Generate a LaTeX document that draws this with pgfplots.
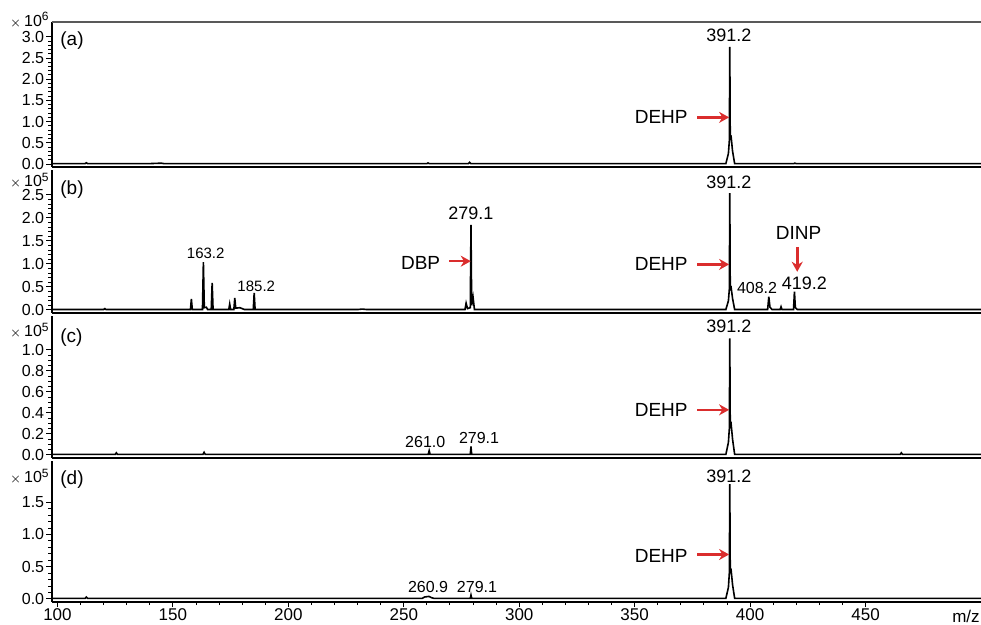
\documentclass[border=0pt]{standalone}
\usepackage{fontspec}
\setmainfont{Liberation Sans}
\usepackage{pgfplots}
\pgfplotsset{compat=1.18}
\usetikzlibrary{arrows.meta}
\definecolor{arr}{RGB}{218,45,45}

\pgfplotsset{
  spec/.style={
    scale only axis, width=464.65pt,
    xmin=97.5, xmax=500,
    axis lines*=left,
    axis line style={black, line width=0.9pt},
    tick align=outside,
    major tick length=2.6pt, minor tick length=1.6pt,
    every tick/.style={black, line width=0.5pt},
    xtick=\empty,
    clip=false,
    yticklabel style={font=\fontsize{8}{9}\selectfont, inner sep=1pt,
      /pgf/number format/.cd, fixed, fixed zerofill, precision=1, assume math mode=true},
    xticklabel style={font=\fontsize{8.5}{10}\selectfont, inner sep=1pt, yshift=0.5pt,
      /pgf/number format/.cd, assume math mode=true},
  },
}
\tikzset{
  sp/.style={black, line width=0.8pt, no marks, sharp plot},
  big/.style={font=\fontsize{9}{10}\selectfont},
  mid/.style={font=\fontsize{8}{9}\selectfont},
  sml/.style={font=\fontsize{7.5}{8.5}\selectfont},
  lab/.style={font=\fontsize{9.5}{11}\selectfont},
  rarr/.style={arr, line width=1.3pt, -{Stealth[length=5pt,width=5.5pt]}},
}

\begin{document}
\begin{tikzpicture}

% ---------------- (a)
\begin{axis}[spec, at={(0,217.5pt)}, anchor=south west, height=72.5pt,
  ymin=-0.07, ymax=3.35,
  ytick={0,0.5,1,1.5,2,2.5,3}, minor y tick num=4]
\addplot[sp] coordinates {
(97.5,0.01)(112,0.01)(112.5,0.03)(113,0.01)(140,0.01)(145,0.02)(146,0.01)
(260,0.01)(260.5,0.025)(261,0.01)(278,0.01)(278.5,0.04)(279,0.01)
(389.5,0.01)(390.6,0.25)(391.0,0.55)(391.2,2.76)(391.4,0.6)(391.8,0.63)(392.4,0.3)(393.3,0.01)
(419,0.01)(419.3,0.02)(420,0.01)(500,0.01)};
\draw[gray!70!black, line width=0.7pt] (rel axis cs:0,1) -- (rel axis cs:1,1);
\node[big] at (axis cs:390.8,3.03) {391.2};
\node[lab, anchor=east] at (axis cs:376.0,1.10) {DEHP};
\draw[rarr] (axis cs:377,1.10) -- (axis cs:390.9,1.10);
\end{axis}

% ---------------- (b)
\begin{axis}[spec, at={(0,144.5pt)}, anchor=south west, height=71.5pt,
  ymin=-0.065, ymax=3.04,
  ytick={0,0.5,1,1.5,2,2.5}, minor y tick num=4]
\addplot[sp] coordinates {
(97.5,0.01)(120,0.01)(120.5,0.03)(121,0.01)
(157.6,0.01)(158,0.24)(158.4,0.01)
(162.8,0.01)(163.2,1.04)(163.6,0.05)(164.5,0.06)(165,0.01)
(166.6,0.01)(167,0.59)(167.4,0.01)
(174.2,0.01)(174.6,0.13)(175,0.01)
(176.4,0.01)(176.8,0.26)(177.2,0.04)(179,0.05)(181,0.01)
(184.8,0.01)(185.2,0.37)(185.6,0.01)
(230,0.01)(232,0.02)(234,0.01)
(276.5,0.01)(277,0.15)(277.6,0.03)(278.8,0.05)(279.1,1.85)(279.4,0.1)(280,0.28)(280.6,0.01)
(389.5,0.01)(390.6,0.2)(391.0,0.45)(391.2,2.54)(391.4,0.45)(391.8,0.48)(392.4,0.25)(393.3,0.01)
(407.6,0.01)(408.1,0.29)(408.6,0.06)(409.5,0.01)
(413,0.01)(413.4,0.07)(413.8,0.01)
(418.8,0.01)(419.2,0.40)(419.6,0.05)(420.4,0.01)(500,0.01)};
\node[sml] at (axis cs:164.2,1.22) {163.2};
\node[sml] at (axis cs:186.1,0.52) {185.2};
\node[big] at (axis cs:279.1,2.11) {279.1};
\node[lab, anchor=east] at (axis cs:268.8,1.03) {DBP};
\draw[rarr] (axis cs:269.6,1.06) -- (axis cs:279.0,1.06);
\node[big] at (axis cs:390.8,2.77) {391.2};
\node[lab, anchor=east] at (axis cs:376.0,0.99) {DEHP};
\draw[rarr] (axis cs:377,0.99) -- (axis cs:390.9,0.99);
\node[mid] at (axis cs:403,0.47) {408.2};
\node[big] at (axis cs:423.5,0.58) {419.2};
\node[lab] at (axis cs:421,1.68) {DINP};
\draw[rarr] (axis cs:420.4,1.37) -- (axis cs:420.4,0.83);
\end{axis}

% ---------------- (c)
\begin{axis}[spec, at={(0,72pt)}, anchor=south west, height=71pt,
  ymin=-0.029, ymax=1.324,
  ytick={0,0.2,0.4,0.6,0.8,1.0}, minor y tick num=3]
\addplot[sp] coordinates {
(97.5,0.005)(125,0.005)(125.5,0.02)(126,0.005)(163,0.005)(163.5,0.025)(164,0.005)
(260.6,0.005)(261,0.04)(261.4,0.005)(278.8,0.005)(279.1,0.08)(279.4,0.005)
(389.5,0.005)(390.6,0.12)(391.0,0.25)(391.2,1.11)(391.4,0.27)(391.8,0.29)(392.4,0.15)(393.3,0.005)
(465,0.005)(465.5,0.02)(466,0.005)(500,0.005)};
\node[mid] at (axis cs:259.3,0.12) {261.0};
\node[mid] at (axis cs:282.6,0.16) {279.1};
\node[big] at (axis cs:390.8,1.23) {391.2};
\node[lab, anchor=east] at (axis cs:376.0,0.43) {DEHP};
\draw[rarr] (axis cs:377,0.43) -- (axis cs:390.9,0.43);
\end{axis}

% ---------------- (d)
\begin{axis}[spec, at={(0,0pt)}, anchor=south west, height=70.5pt,
  ymin=-0.047, ymax=2.14,
  ytick={0,0.5,1.0,1.5}, minor y tick num=4,
  xtick={100,150,200,250,300,350,400,450}, minor x tick num=4]
\addplot[sp] coordinates {
(97.5,0.01)(112,0.01)(112.5,0.03)(113,0.01)
(258,0.01)(259,0.03)(260.9,0.04)(262,0.02)(263,0.01)
(278.8,0.01)(279.1,0.06)(279.4,0.01)
(389.5,0.01)(390.6,0.18)(391.0,0.4)(391.2,1.78)(391.4,0.42)(391.8,0.44)(392.4,0.22)(393.3,0.01)
(500,0.01)};
\node[mid] at (axis cs:260.5,0.18) {260.9};
\node[mid] at (axis cs:281.7,0.18) {279.1};
\node[big] at (axis cs:390.8,1.91) {391.2};
\node[lab, anchor=east] at (axis cs:376.0,0.67) {DEHP};
\draw[rarr] (axis cs:377,0.69) -- (axis cs:390.9,0.69);
\end{axis}

% exponent and panel labels
\node[anchor=base east, font=\fontsize{8}{9}\selectfont, inner sep=0pt] at (-0.85pt,287.75pt) {{\fontsize{6}{7}\selectfont$\times$}\,10\textsuperscript{6}};
\node[anchor=base east, font=\fontsize{8}{9}\selectfont, inner sep=0pt] at (-0.85pt,207.5pt) {{\fontsize{6}{7}\selectfont$\times$}\,10\textsuperscript{5}};
\node[anchor=base east, font=\fontsize{8}{9}\selectfont, inner sep=0pt] at (-0.85pt,132.5pt) {{\fontsize{6}{7}\selectfont$\times$}\,10\textsuperscript{5}};
\node[anchor=base east, font=\fontsize{8}{9}\selectfont, inner sep=0pt] at (-0.85pt,59.5pt) {{\fontsize{6}{7}\selectfont$\times$}\,10\textsuperscript{5}};
\node[anchor=base west, lab, inner sep=0pt] at (4.15pt,278pt) {(a)};
\node[anchor=base west, lab, inner sep=0pt] at (4.15pt,203.5pt) {(b)};
\node[anchor=base west, lab, inner sep=0pt] at (4.15pt,129.5pt) {(c)};
\node[anchor=base west, lab, inner sep=0pt] at (4.15pt,58.5pt) {(d)};
\node[anchor=base east, font=\fontsize{8.5}{10}\selectfont, inner sep=0pt] at (464.2pt,-10.3pt) {m/z};

\pgfresetboundingbox
\path[use as bounding box] (-25.85pt,-11.5pt) rectangle (464.65pt,301pt);
\end{tikzpicture}
\end{document}
